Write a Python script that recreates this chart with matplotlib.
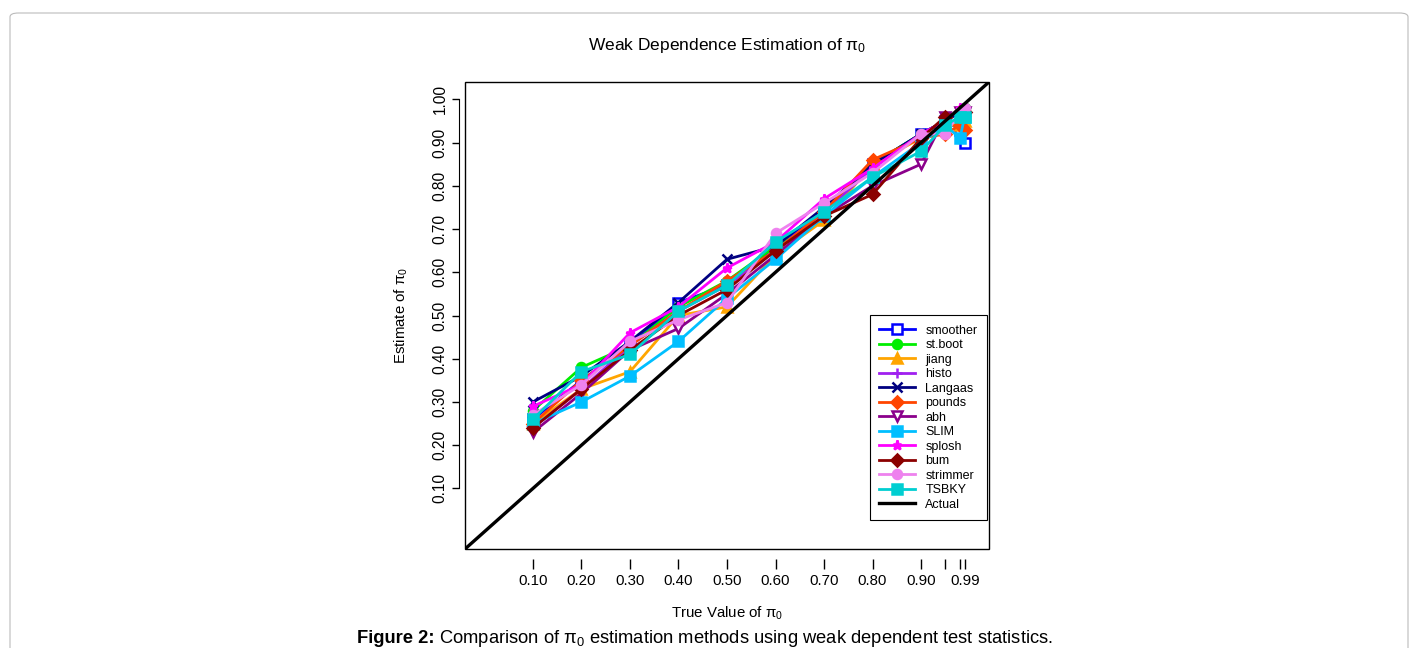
import matplotlib
matplotlib.use("Agg")
import matplotlib.pyplot as plt
from matplotlib.patches import FancyBboxPatch, Rectangle

plt.rcParams['font.family'] = ['Liberation Sans', 'DejaVu Sans']
plt.rcParams['mathtext.fontset'] = 'custom'
plt.rcParams['mathtext.rm'] = 'Liberation Sans'
plt.rcParams['mathtext.it'] = 'Liberation Sans'
plt.rcParams['mathtext.bf'] = 'Liberation Sans:bold'

x_true = [0.10, 0.20, 0.30, 0.40, 0.50, 0.60, 0.70, 0.80, 0.90, 0.95, 0.98, 0.99]
x_ticks = [0.10, 0.20, 0.30, 0.40, 0.50, 0.60, 0.70, 0.80, 0.90, 0.95, 0.98, 0.99]
x_ticklabels = ["0.10", "0.20", "0.30", "0.40", "0.50", "0.60", "0.70", "0.80", "0.90", "", "", "0.99"]
y_ticks = [0.10, 0.20, 0.30, 0.40, 0.50, 0.60, 0.70, 0.80, 0.90, 1.00]
y_ticklabels = ["0.10", "0.20", "0.30", "0.40", "0.50", "0.60", "0.70", "0.80", "0.90", "1.00"]

smoother = [0.26, 0.35, 0.43, 0.53, 0.57, 0.66, 0.74, 0.85, 0.92, 0.95, 0.93, 0.90]
st_boot  = [0.28, 0.38, 0.43, 0.52, 0.58, 0.66, 0.72, 0.85, 0.92, 0.95, 0.97, 0.98]
jiang    = [0.25, 0.33, 0.37, 0.50, 0.52, 0.64, 0.72, 0.85, 0.91, 0.94, 0.94, 0.95]
histo    = [0.24, 0.33, 0.43, 0.51, 0.57, 0.65, 0.74, 0.84, 0.92, 0.95, 0.97, 0.97]
langaas  = [0.30, 0.36, 0.44, 0.53, 0.63, 0.66, 0.75, 0.85, 0.92, 0.95, 0.97, 0.97]
pounds   = [0.25, 0.35, 0.43, 0.51, 0.58, 0.65, 0.74, 0.86, 0.91, 0.92, 0.94, 0.93]
abh      = [0.23, 0.32, 0.42, 0.47, 0.55, 0.64, 0.73, 0.80, 0.85, 0.96, 0.97, 0.97]
slim     = [0.25, 0.30, 0.36, 0.44, 0.54, 0.63, 0.73, 0.82, 0.90, 0.94, 0.91, 0.96]
splosh   = [0.29, 0.34, 0.46, 0.52, 0.61, 0.67, 0.77, 0.84, 0.92, 0.95, 0.98, 0.98]
bum      = [0.24, 0.33, 0.42, 0.50, 0.56, 0.65, 0.73, 0.78, 0.91, 0.96, 0.97, 0.97]
strimmer = [0.27, 0.34, 0.44, 0.49, 0.53, 0.69, 0.76, 0.83, 0.92, 0.92, 0.97, 0.98]
tsbky    = [0.26, 0.37, 0.41, 0.51, 0.57, 0.67, 0.74, 0.82, 0.88, 0.94, 0.96, 0.96]

series = [
    ("smoother", smoother, "#0000FF", "s", False),
    ("st.boot", st_boot, "#00EE00", "o", True),
    ("jiang", jiang, "#FFA500", "^", True),
    ("histo", histo, "#A020F0", "+", True),
    ("Langaas", langaas, "#000080", "x", True),
    ("pounds", pounds, "#FF4500", "D", True),
    ("abh", abh, "#8B008B", "v", False),
    ("SLIM", slim, "#00BFFF", "s", True),
    ("splosh", splosh, "#FF00FF", "*", True),
    ("bum", bum, "#8B0000", "D", True),
    ("strimmer", strimmer, "#EE82EE", "o", True),
    ("TSBKY", tsbky, "#00CED1", "s", True),
]

fig = plt.figure(figsize=(14.16, 6.48), dpi=100)
border = FancyBboxPatch((10 / 1416, -0.05), 1398 / 1416, (648 - 13) / 648 + 0.05,
                        boxstyle="round,pad=0,rounding_size=0.006",
                        transform=fig.transFigure, fill=False, edgecolor="#BBBBBB", linewidth=0.8)
fig.patches.append(border)

ax = fig.add_axes([465 / 1416, 1 - 549 / 648, 524 / 1416, 467 / 648])
ax.set_xlim(-0.04, 1.04)
ax.set_ylim(-0.04, 1.04)

for name, vals, col, mk, filled in series:
    ax.plot(x_true, vals, color=col, linewidth=2.0, marker=mk, markersize=6.5,
            markerfacecolor=(col if filled else "white"), markeredgecolor=col,
            markeredgewidth=1.8, label=name)

ax.plot([-0.04, 1.04], [-0.04, 1.04], color="black", linewidth=2.4, label="Actual")

for s in ax.spines.values():
    s.set_visible(False)
ax.add_patch(Rectangle((0, 0), 1, 1, transform=ax.transAxes, fill=False,
                       edgecolor="black", linewidth=1.0, zorder=5, clip_on=False))
ax.spines['left'].set_position(('outward', 4.5))
ax.spines['left'].set_visible(True)
ax.spines['left'].set_bounds(0.10, 1.00)
ax.spines['bottom'].set_position(('outward', 7))

ax.set_xticks(x_ticks)
ax.set_xticklabels(x_ticklabels, fontsize=10.8)
ax.set_yticks(y_ticks)
ax.set_yticklabels(y_ticklabels, fontsize=11.2, rotation=90, va="center")
ax.tick_params(axis='x', length=7, width=1, pad=4)
ax.tick_params(axis='y', length=5, width=1, pad=3)

ax.set_xlabel(r"True Value of $\pi_0$", fontsize=10.8, labelpad=12)
ax.set_ylabel(r"Estimate of $\pi_0$", fontsize=10.8, labelpad=16)
ax.set_title(r"Weak Dependence Estimation of $\pi_0$", fontsize=12.5, pad=23)

leg = ax.legend(loc="lower right", bbox_to_anchor=(0.996, 0.062), fontsize=9,
                frameon=True, fancybox=False, edgecolor="black", framealpha=1,
                handlelength=2.9, labelspacing=0.2, borderpad=0.75, handletextpad=0.8,
                borderaxespad=0)
leg.get_frame().set_linewidth(0.8)

cap_y = 1 - 643 / 648
t1 = fig.text(357 / 1416, cap_y, "Figure 2:", ha="left", va="baseline",
              fontsize=13.2, fontweight="bold")
fig.canvas.draw()
bb = t1.get_window_extent(renderer=fig.canvas.get_renderer())
fig.text((bb.x1 + 4) / 1416, cap_y,
         r"Comparison of $\pi_0$ estimation methods using weak dependent test statistics.",
         ha="left", va="baseline", fontsize=13.2)

fig.savefig("out.png", dpi=100)
